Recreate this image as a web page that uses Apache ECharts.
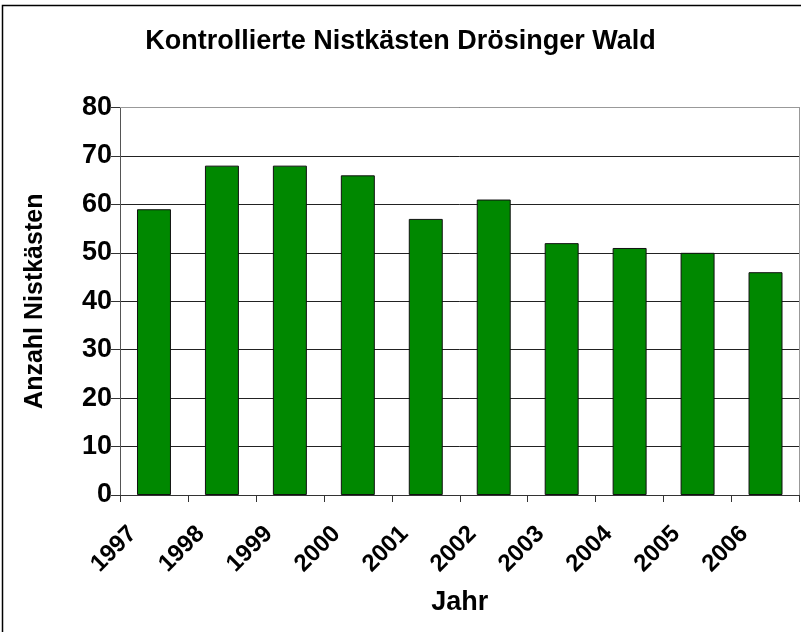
<!DOCTYPE html>
<html><head><meta charset="utf-8">
<script src="https://cdn.jsdelivr.net/npm/echarts@6/dist/echarts.min.js"></script>
<style>html,body{margin:0;padding:0;background:#fff}#c{width:801px;height:632px}</style>
</head><body><div id="c"></div>
<script>
var titleText = 'Kontrollierte Nistkästen Drösinger Wald';
var categories = ['1997','1998','1999','2000','2001','2002','2003','2004','2005','2006'];
var values = [59, 68, 68, 66, 57, 61, 52, 51, 50, 46];
var yName = 'Anzahl Nistkästen';
var xName = 'Jahr';
var FONT = 'Liberation Sans, Arial, sans-serif';
var chart = echarts.init(document.getElementById('c'), null, {renderer:'canvas'});
chart.setOption({
  animation:false,
  backgroundColor:'#fff',
  title:{text:titleText,left:'center',top:23,textStyle:{fontFamily:FONT,fontWeight:'bold',fontSize:27,color:'#000'}},
  graphic:[
    {type:'rect',shape:{x:2.5,y:5.5,width:820,height:650},style:{fill:'none',stroke:'#000',lineWidth:1.5},silent:true},
    {type:'line',shape:{x1:120,y1:107.5,x2:799.5,y2:107.5},style:{stroke:'#999',lineWidth:1},z:1},
    {type:'line',shape:{x1:799.5,y1:107.5,x2:799.5,y2:495},style:{stroke:'#999',lineWidth:1},z:1}
  ],
  grid:{left:120,right:1.5,top:107.5,bottom:137,containLabel:false},
  xAxis:{type:'category',data:categories,
    name:xName,nameLocation:'middle',nameGap:94,
    nameTextStyle:{fontFamily:FONT,fontWeight:'bold',fontSize:27,color:'#000'},
    axisLine:{lineStyle:{color:'#333',width:1}},
    axisTick:{show:true,alignWithLabel:false,length:7,lineStyle:{color:'#333'}},
    axisLabel:{rotate:45,fontFamily:FONT,fontWeight:'bold',fontSize:24,color:'#000',margin:14,padding:[0,30,0,0]},
    splitLine:{show:false}},
  yAxis:{type:'value',min:0,max:80,interval:10,
    name:yName,nameLocation:'middle',nameGap:72,
    nameTextStyle:{fontFamily:FONT,fontWeight:'bold',fontSize:25,color:'#000'},
    axisLine:{show:true,lineStyle:{color:'#555',width:1}},
    axisTick:{show:true,length:9,lineStyle:{color:'#333'}},
    axisLabel:{fontFamily:FONT,fontWeight:'bold',fontSize:27,color:'#000',margin:8},
    splitLine:{lineStyle:{color:'#222',width:1}}},
  series:[{type:'bar',data:values,barWidth:'50%',
    itemStyle:{color:'#008800',borderColor:'#111',borderWidth:1}}]
});
</script></body></html>
